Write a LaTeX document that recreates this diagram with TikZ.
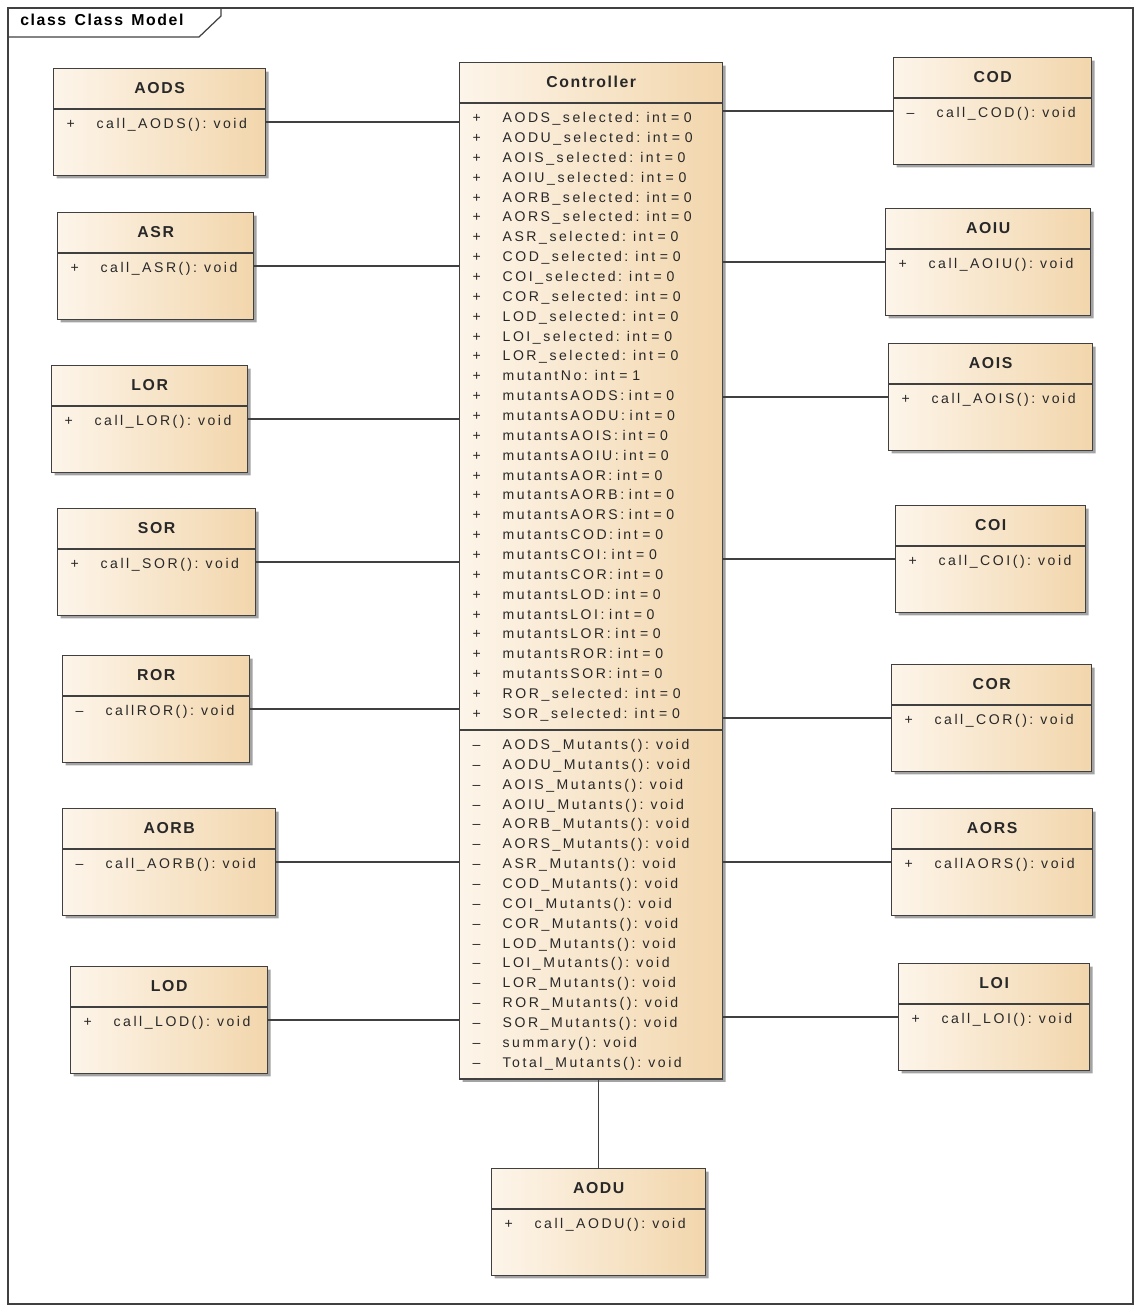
\documentclass[tikz,border=0pt]{standalone}
\usepackage{fontspec}
\usepackage{tikz}
\usetikzlibrary{shapes.multipart, shadows}
\newfontfamily\umlfont[LetterSpace=18, WordSpace=1.8]{Liberation Sans}
\newfontfamily\umlheadfont[LetterSpace=10, WordSpace=1.4]{Liberation Sans}
\definecolor{umlleft}{RGB}{253,245,234}
\definecolor{umlright}{RGB}{242,214,172}
\definecolor{umlline}{RGB}{64,64,64}
\definecolor{umltext}{RGB}{40,40,40}
% class name in the top compartment
\newcommand{\umlhead}[1]{{\centering\umlheadfont\bfseries\fontsize{9}{10}\selectfont\rule[-0.2cm]{0pt}{0.58cm}#1\par}}
% one member line: visibility sign, then the text
\newcommand{\umlmem}[2]{\mbox{\makebox[0.6cm][l]{#1}#2}\strut}
% empty room under the single operation
\newcommand{\umlgap}{\rule[-0.82cm]{0pt}{0.32cm}}

\begin{document}
\begin{tikzpicture}[x=0.02cm, y=-0.02cm,
  umlclass/.style={rectangle split, rectangle split parts=2, anchor=north west,
    draw=umlline, line width=0.8pt, left color=umlleft, right color=umlright,
    drop shadow={shadow xshift=0.06cm, shadow yshift=-0.06cm, fill=black!60, opacity=.6},
    inner xsep=0.26cm, inner ysep=0.1cm, text=umltext,
    font=\umlfont\fontsize{8}{11.3}\selectfont},
  assoc/.style={draw=umlline, line width=0.9pt},
  frameline/.style={draw=umlline, line width=0.7pt}]
\useasboundingbox (0,0) rectangle (1135,1306);
% Diagram frame with its name tab
\draw[frameline] (8,8) rectangle (1133,1304);
\draw[frameline] (8,37) -- (199,37) -- (221,16) -- (221,8);
\node[anchor=west, inner sep=0, font=\umlheadfont\bfseries\fontsize{9}{10}\selectfont] (frametitle) at (20,20) {class Class Model};
% Central class
\node[umlclass, rectangle split parts=3, text width=4.74cm] (ctrl) at (459,62) {\umlhead{Controller}
\nodepart{two}
\umlmem{+}{AODS\_selected: int = 0}\\
\umlmem{+}{AODU\_selected: int = 0}\\
\umlmem{+}{AOIS\_selected: int = 0}\\
\umlmem{+}{AOIU\_selected: int = 0}\\
\umlmem{+}{AORB\_selected: int = 0}\\
\umlmem{+}{AORS\_selected: int = 0}\\
\umlmem{+}{ASR\_selected: int = 0}\\
\umlmem{+}{COD\_selected: int = 0}\\
\umlmem{+}{COI\_selected: int = 0}\\
\umlmem{+}{COR\_selected: int = 0}\\
\umlmem{+}{LOD\_selected: int = 0}\\
\umlmem{+}{LOI\_selected: int = 0}\\
\umlmem{+}{LOR\_selected: int = 0}\\
\umlmem{+}{mutantNo: int = 1}\\
\umlmem{+}{mutantsAODS: int = 0}\\
\umlmem{+}{mutantsAODU: int = 0}\\
\umlmem{+}{mutantsAOIS: int = 0}\\
\umlmem{+}{mutantsAOIU: int = 0}\\
\umlmem{+}{mutantsAOR: int = 0}\\
\umlmem{+}{mutantsAORB: int = 0}\\
\umlmem{+}{mutantsAORS: int = 0}\\
\umlmem{+}{mutantsCOD: int = 0}\\
\umlmem{+}{mutantsCOI: int = 0}\\
\umlmem{+}{mutantsCOR: int = 0}\\
\umlmem{+}{mutantsLOD: int = 0}\\
\umlmem{+}{mutantsLOI: int = 0}\\
\umlmem{+}{mutantsLOR: int = 0}\\
\umlmem{+}{mutantsROR: int = 0}\\
\umlmem{+}{mutantsSOR: int = 0}\\
\umlmem{+}{ROR\_selected: int = 0}\\
\umlmem{+}{SOR\_selected: int = 0}
\nodepart{three}
\umlmem{\textendash}{AODS\_Mutants(): void}\\
\umlmem{\textendash}{AODU\_Mutants(): void}\\
\umlmem{\textendash}{AOIS\_Mutants(): void}\\
\umlmem{\textendash}{AOIU\_Mutants(): void}\\
\umlmem{\textendash}{AORB\_Mutants(): void}\\
\umlmem{\textendash}{AORS\_Mutants(): void}\\
\umlmem{\textendash}{ASR\_Mutants(): void}\\
\umlmem{\textendash}{COD\_Mutants(): void}\\
\umlmem{\textendash}{COI\_Mutants(): void}\\
\umlmem{\textendash}{COR\_Mutants(): void}\\
\umlmem{\textendash}{LOD\_Mutants(): void}\\
\umlmem{\textendash}{LOI\_Mutants(): void}\\
\umlmem{\textendash}{LOR\_Mutants(): void}\\
\umlmem{\textendash}{ROR\_Mutants(): void}\\
\umlmem{\textendash}{SOR\_Mutants(): void}\\
\umlmem{\textendash}{summary(): void}\\
\umlmem{\textendash}{Total\_Mutants(): void}};
% Left column
\node[umlclass, text width=3.72cm] (aods) at (53,68) {\umlhead{AODS}\nodepart{two}\umlmem{+}{call\_AODS(): void}\umlgap};
\node[umlclass, text width=3.40cm] (asr) at (57,212) {\umlhead{ASR}\nodepart{two}\umlmem{+}{call\_ASR(): void}\umlgap};
\node[umlclass, text width=3.40cm] (lor) at (51,365) {\umlhead{LOR}\nodepart{two}\umlmem{+}{call\_LOR(): void}\umlgap};
\node[umlclass, text width=3.44cm] (sor) at (57,508) {\umlhead{SOR}\nodepart{two}\umlmem{+}{call\_SOR(): void}\umlgap};
\node[umlclass, text width=3.22cm] (ror) at (62,655) {\umlhead{ROR}\nodepart{two}\umlmem{\textendash}{callROR(): void}\umlgap};
\node[umlclass, text width=3.74cm] (aorb) at (62,808) {\umlhead{AORB}\nodepart{two}\umlmem{\textendash}{call\_AORB(): void}\umlgap};
\node[umlclass, text width=3.42cm] (lod) at (70,966) {\umlhead{LOD}\nodepart{two}\umlmem{+}{call\_LOD(): void}\umlgap};
% Right column
\node[umlclass, text width=3.44cm] (cod) at (893,57) {\umlhead{COD}\nodepart{two}\umlmem{\textendash}{call\_COD(): void}\umlgap};
\node[umlclass, text width=3.58cm] (aoiu) at (885,208) {\umlhead{AOIU}\nodepart{two}\umlmem{+}{call\_AOIU(): void}\umlgap};
\node[umlclass, text width=3.56cm] (aois) at (888,343) {\umlhead{AOIS}\nodepart{two}\umlmem{+}{call\_AOIS(): void}\umlgap};
\node[umlclass, text width=3.28cm] (coi) at (895,505) {\umlhead{COI}\nodepart{two}\umlmem{+}{call\_COI(): void}\umlgap};
\node[umlclass, text width=3.48cm] (cor) at (891,664) {\umlhead{COR}\nodepart{two}\umlmem{+}{call\_COR(): void}\umlgap};
\node[umlclass, text width=3.50cm] (aors) at (891,808) {\umlhead{AORS}\nodepart{two}\umlmem{+}{callAORS(): void}\umlgap};
\node[umlclass, text width=3.30cm] (loi) at (898,963) {\umlhead{LOI}\nodepart{two}\umlmem{+}{call\_LOI(): void}\umlgap};
% Below the controller
\node[umlclass, text width=3.76cm] (aodu) at (491,1168) {\umlhead{AODU}\nodepart{two}\umlmem{+}{call\_AODU(): void}\umlgap};
% Associations to the controller
\foreach \cls in {aods, asr, lor, sor, ror, aorb, lod}
  \draw[assoc] (\cls.east) -- (\cls.east -| ctrl.west);
\foreach \cls in {cod, aoiu, aois, coi, cor, aors, loi}
  \draw[assoc] (\cls.west) -- (\cls.west -| ctrl.east);
\draw[assoc] (aodu.north) -- (aodu.north |- ctrl.south);
\end{tikzpicture}
\end{document}
